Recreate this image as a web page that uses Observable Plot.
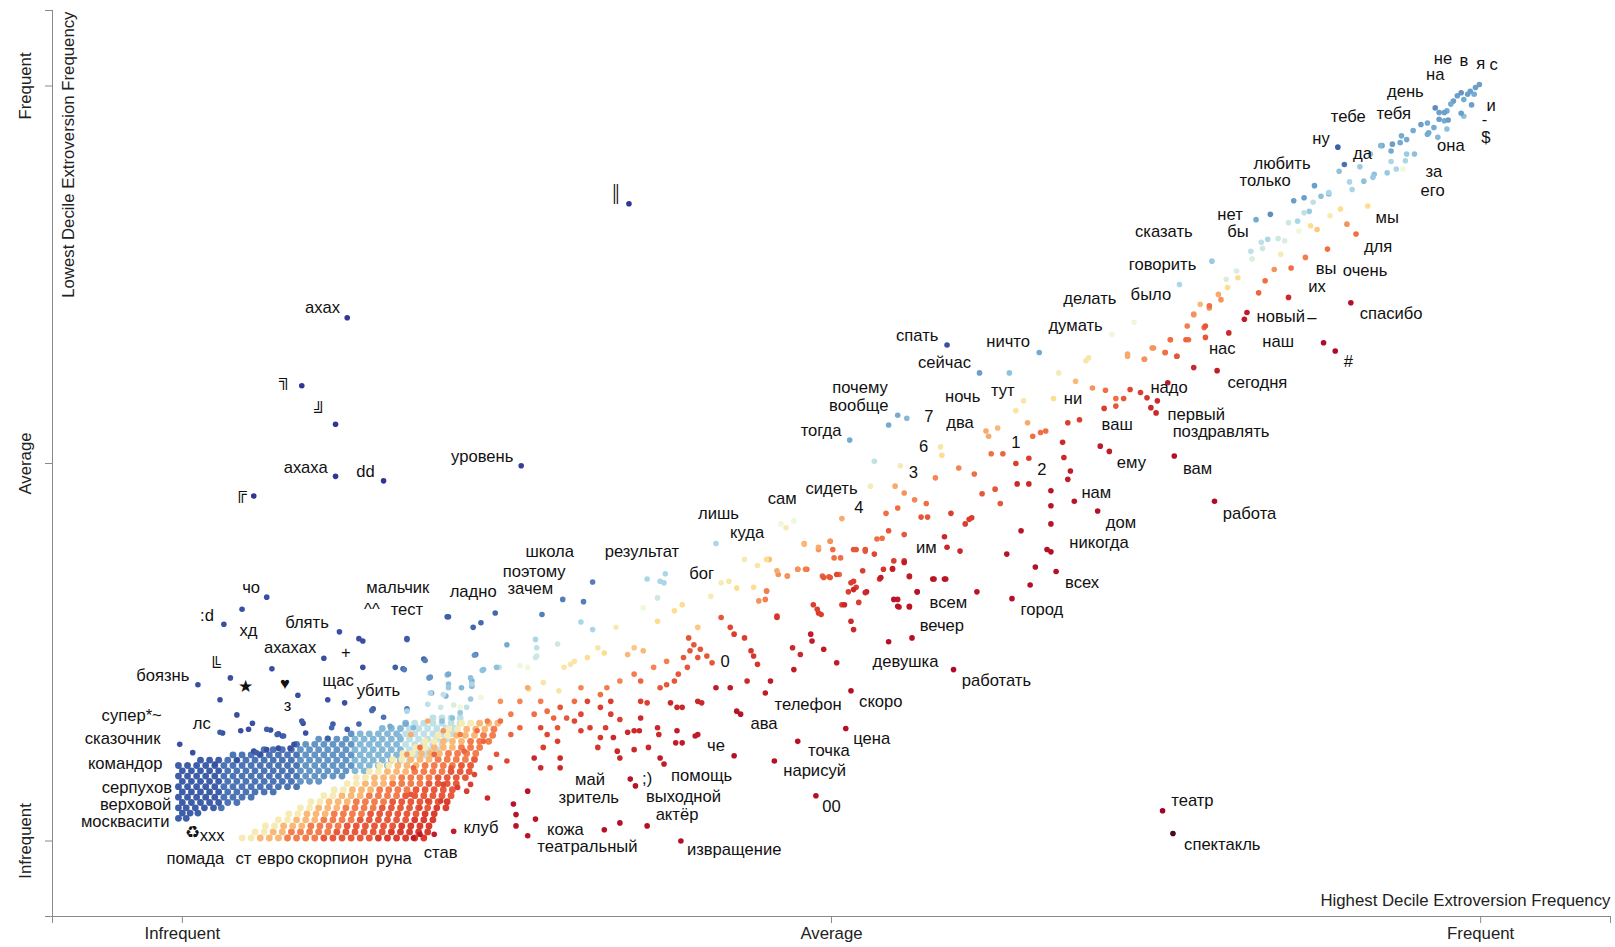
<!DOCTYPE html>
<html><head><meta charset="utf-8">
<script src="https://cdn.jsdelivr.net/npm/d3@7"></script>
<script src="https://cdn.jsdelivr.net/npm/@observablehq/plot@0.6"></script>
<style>html,body{margin:0;padding:0;background:#fff;overflow:hidden}</style>
</head><body><div id="chart"></div>
<script>
// Values are rank-scaled frequencies ×1000; score s (−10…100): red = extrovert-leaning, blue = introvert-leaning
const tickValues = [0, 500, 1000];
const tickLabels = ["Infrequent", "Average", "Frequent"];
const xTitle = "Highest Decile Extroversion Frequency";
const yTitle = "Lowest Decile Extroversion Frequency";

// individual terms [x, y, score]
const termPoints = [
[999,1002,78],[996,998,78],[992,993,78],[995,989,75],[990,989,78],[985,991,80],[982,987,78],[987,982,75],[979,980,78],[977,976,75],
[974,967,75],[972,965,78],[968,965,78],[965,971,82],[987,960,70],[972,954,75],[968,956,78],[974,943,70],[964,945,75],[960,938,75],
[954,949,78],[959,936,75],[949,910,70],[943,929,75],[938,925,75],[932,923,78],[924,921,78],[931,914,75],[942,901,65],[935,890,65],
[928,885,68],[918,883,70],[917,879,68],[910,874,70],[901,863,65],[913,841,45],[940,890,55],[890,919,92],[895,896,88],[872,868,78],
[864,852,78],[856,848,78],[877,854,70],[883,857,72],[868,834,68],[859,821,65],[838,830,82],[827,823,75],[860,808,55],[849,795,58],
[836,797,65],[831,793,62],[823,781,62],[869,815,45],[874,810,42],[884,828,50],[892,837,45],[897,817,35],[904,804,30],[882,784,30],
[865,773,32],[854,759,30],[841,757,35],[846,777,50],[834,742,30],[829,726,28],[813,746,45],[805,733,45],[793,768,68],[768,737,65],
[798,724,38],[800,717,35],[784,711,40],[791,706,35],[779,697,35],[774,682,32],[787,680,30],[788,667,25],[775,664,30],[761,664,32],
[766,642,28],[747,653,35],[757,647,28],[741,638,30],[728,642,38],[733,687,55],[716,671,55],[852,720,15],[820,700,12],[818,691,12],
[806,673,15],[900,713,8],[879,660,5],[888,649,5],
[939,934,75],[948,941,75],[959,951,75],[967,932,72],[975,955,78],[985,964,78],[993,975,78],[923,921,72],[915,910,70],[907,893,68],
[931,900,65],[943,910,68],[891,887,70],[899,873,65],[883,859,65],[871,846,62],[864,832,62],[852,819,60],[844,798,60],[832,785,60],
[824,771,58],[812,755,58],[804,744,58],
[589,657,95],[660,647,75],[614,620,78],[637,620,70],[675,620,50],[696,636,48],[698,640,48],[688,609,40],[648,583,48],[642,570,48],
[671,586,45],[551,564,75],[558,560,72],[544,551,75],[514,531,75],[533,503,62],[584,522,48],[585,511,45],[553,497,50],[530,470,50],
[549,470,38],[556,461,35],[564,452,33],[573,447,30],[580,481,33],[598,494,33],[610,486,30],[619,543,38],[621,536,38],[628,547,40],
[651,554,38],[655,536,30],[661,541,30],[665,543,30],[623,513,30],[632,513,28],
[701,600,35],[711,597,30],[719,586,30],[725,586,25],[719,576,25],[710,573,20],
[730,598,22],[738,594,20],[743,587,18],[751,583,15],[746,574,15],[750,567,15],
[728,645,38],[741,638,35],[748,653,35],[757,647,30],[766,642,25],[761,664,30],[773,664,28],[779,698,35],[788,682,25],[791,709,30],
[779,627,15],[797,623,12],[759,607,12],[764,510,8],[795,450,5],
[682,554,20],[691,558,20],[678,528,15],[679,508,15],[707,523,12],[714,516,12],[684,490,12],[682,479,12],
[642,500,20],[652,507,20],[643,473,15],[652,473,15],[669,464,10],[669,444,10],[669,420,10],[687,450,10],[705,437,8],[646,411,10],
[666,386,8],[669,383,8],[635,380,10],[657,363,8],[673,357,8],[653,339,8],[639,321,8],[612,330,10],
[599,384,15],[589,389,15],[587,403,15],[592,434,20],[603,420,20],[606,426,20],[608,428,20],[616,460,25],[626,466,25],[630,447,25],
[569,429,25],[574,429,25],[542,434,30],[551,441,30],[544,411,25],[556,406,25],[535,400,30],[539,401,30],[508,427,38],[479,394,38],
[499,397,35],[507,375,30],[501,386,30],[517,386,25],[526,386,25],[490,386,35],[548,371,20],[556,371,20],[537,347,18],[540,360,18],
[547,360,18],[560,350,15],[579,347,12],[588,347,12],[566,330,12],[551,320,12],[560,310,12],[552,310,12],[521,316,20],[508,313,20],
[493,351,28],[498,350,28],[506,353,28],[515,342,20],[519,336,20],[513,330,20],[474,360,30],[481,360,30],[466,351,35],[459,353,35],
[452,373,40],[450,331,35],[471,424,55],[465,415,50],[486,313,20],[490,302,20],[458,298,20],
[755,40,0],[763,10,-10],[594,227,5],[562,269,8],[544,264,8],[551,311,10],[560,311,10],[548,320,10],[566,330,10],[578,347,10],
[587,347,10],[560,351,12],[538,349,12],[547,361,12],[556,369,12],[527,330,12],
[127,693,100],[92,603,100],[118,552,100],[118,483,100],[155,477,100],[55,457,100],[261,497,98],[344,844,100],
[46,307,95],[32,287,95],[65,323,95],[121,277,95],[139,265,95],[136,268,95],[173,268,92],[204,297,92],[109,242,95],[69,228,95],
[37,216,95],[12,207,95],[29,187,95],[89,193,95],[112,187,95],[125,183,95],[139,230,95],[164,230,92],[170,228,92],[186,241,92],
[190,216,80],[204,220,70],[147,175,92],[155,164,88],[173,175,85],[42,167,95],[54,156,95],[31,143,95],[45,146,95],[51,148,95],
[68,147,95],[74,142,95],[77,139,95],[93,156,95],[95,143,95],[116,155,92],[127,148,92],[136,155,90],[-2,128,95],[8,117,95],
[25,102,95],[42,107,95],[55,119,95],[60,115,95],[65,121,95],[74,123,95],[83,123,95],[86,128,95],[112,136,92],
[146,173,90],[226,247,85],[224,283,90],[230,289,90],[250,260,75],[273,245,60],[232,227,70],[244,230,62],[260,232,55],[266,230,55],
[223,212,75],[223,205,72],[205,221,75],[215,203,72],[222,188,68],[203,192,72],[192,196,75],[208,163,70],[214,170,68],[200,159,70],
[219,177,62],[172,155,75],[178,150,72],[160,152,75],[167,139,72],[115,150,90],[92,159,92],[78,139,92],[73,141,92],[65,148,92],
[29,144,92],[57,117,92],
[316,343,85],[358,347,65],[368,344,65],[372,354,65],[371,342,65],[293,320,85],[309,317,85],[277,300,85],[241,302,90],[205,297,92],
[173,267,92],[366,322,60],[355,309,55],[334,283,50],[307,290,65],[316,280,65],[272,267,65],[289,261,60],[225,246,80],[242,230,70],
[231,226,70],[187,239,85],[171,227,85],[191,217,80],[205,208,70],[205,203,68],[222,216,70],[223,208,65],[272,243,60],[273,256,62],
[191,196,65],[201,194,62],[173,172,65],[189,181,62],[199,177,60],[209,180,58],[230,190,55],[214,177,55],
[267,201,48],[278,210,48],[290,199,48],[299,234,48],[302,238,48],[294,230,48],[320,256,48],[325,249,45],[312,243,45],[348,256,42],
[355,252,40],[343,247,40],[366,291,45],[379,305,45],[385,313,45],[397,283,42],[407,324,50],[415,342,50],[421,344,48],[433,373,50],
[450,373,45],[440,336,45],
[458,358,38],[466,351,35],[474,360,35],[480,360,32],[444,318,35],[450,331,32],[449,320,32],[479,393,40],[490,389,38],[499,397,35],
[502,375,30],[494,349,25],[499,349,25],[504,353,22],[517,344,20],[524,358,20],[533,380,22],[519,386,25],[526,384,25],
[517,333,15],[526,329,15],[510,313,15],[489,307,20],[492,300,20],[515,291,15],[517,280,15],
[458,296,18],[484,274,12],[485,265,12],[494,254,12],[470,256,15],[476,247,15],[504,236,12],[471,227,12],
[415,296,25],[422,283,22],[425,274,20],[433,269,20],[438,252,18],[440,245,18],[443,234,18],[435,212,15],[453,212,12],[449,196,12],
[390,269,25],[394,260,25],[399,254,25],[404,245,25],[408,236,25],[391,252,25],[397,243,25],[386,243,25],[389,230,25],[382,221,25],
[379,212,25],[373,207,25],[368,203,25],[411,203,12],[422,203,12],[430,168,10],[427,172,10],
[397,185,15],[400,183,15],[381,177,15],[385,177,15],[376,183,15],[395,139,12],[397,141,12],[381,146,12],[380,130,12],[385,130,12],
[425,113,8],[456,106,8],[474,132,8],[488,60,8],[511,149,8],[515,199,8],
[368,110,12],[371,102,12],[359,124,15],[348,121,15],[332,137,15],[335,119,15],[337,110,15],[345,82,10],[349,73,10],
[358,20,8],[337,24,8],[325,15,8],[384,0,8],
[348,146,15],[352,146,15],[343,144,15],[353,185,20],[358,183,20],[366,150,15],[367,141,15],[353,163,15],
[322,177,20],[330,168,20],[337,161,20],[326,150,20],[322,137,18],[320,124,18],[330,185,20],[312,185,22],[307,168,22],[314,150,20],
[307,146,20],[302,159,22],[291,177,25],[296,163,25],[289,150,25],[281,141,22],[276,150,22],[289,132,20],[278,124,20],[291,110,15],
[276,97,15],[271,110,15],[266,66,10],[255,49,10],[257,35,10],[257,20,10],[266,7,10],[272,29,10],[291,97,15],
[235,57,15],[209,13,12],[194,9,12],[183,9,12],[178,4,12],
[253,168,32],[245,185,35],[260,185,33],[266,203,38],[253,141,28],[245,159,30],[260,150,28],[235,159,32],[232,132,28],[242,115,25],
[237,97,22],[225,88,22],[250,106,22],[212,71,20],[201,75,22],[199,53,20],[183,44,22],[189,53,22],[176,62,25],[219,66,20],
[222,75,20],[207,97,25],[194,115,28],[183,124,30],[178,97,28],[217,119,28],[227,146,30],[214,141,32],[201,146,35],[189,159,38],
[176,141,38],[173,115,35],
[276,185,32],[281,172,30],[286,163,28],[271,168,30],[302,185,30],[307,203,33],[322,194,30],[327,203,32],[337,212,33],[348,221,32],
[353,212,28],[363,230,33],[373,238,32],
[411,394,65],[461,420,55],[443,365,48],[427,335,45]
];

// dense low-frequency terms: [y, score, [x, ...]]
const denseRows = [
[30,92,[-3,3]],[37,92,[0,6,12]],[44,92,[-3,3,10,17,24]],[44,87,[30]],[51,92,[0,7,14,21,28]],[51,87,[35,42]],
[58,92,[-3,4,11,18,25]],[58,87,[32,39,46,53]],
[65,92,[0,7,14,21,28]],[65,87,[35,42,49,56,63,70]],
[72,92,[-3,4,11,18,25]],[72,87,[32,39,46,53,60,67,74,81,88]],
[79,92,[0,7,14,21,28]],[79,87,[35,42,49,56,63,70,77,84]],[79,80,[91,98,105]],
[86,92,[-3,4,11,18,25]],[86,87,[32,39,46,53,60,67,74,81,88]],[86,80,[95,102,109,116,123]],
[93,92,[0,7,14,21,28]],[93,87,[35,42,49,56,63,70,77,84]],[93,80,[91,98,105,112,119,126]],[93,72,[133,140]],
[100,92,[-3,4,11,18,25]],[100,87,[32,39,46,53,60,67,74,81,88]],[100,80,[95,102,109,116,123,130]],[100,72,[137,144,151,158]],
[107,92,[14,21,28]],[107,87,[35,42,49,56,63,70,77,84]],[107,80,[91,98,105,112,119,126]],[107,72,[133,140,147,154,161,168]],[107,62,[175]],
[114,87,[39,46,53,60,67,74,81,88]],[114,80,[95,102,109,116,123,130]],[114,72,[137,144,151,158,165]],[114,62,[172,179,186,193]],
[121,87,[63,70,77,84]],[121,80,[91,98,105,112,119,126]],[121,72,[133,140,147,154,161,168]],[121,62,[175,182,189,196]],
[128,87,[88]],[128,80,[95,102,109,116,123,130]],[128,72,[137,144,151,158,165]],[128,62,[172,179,186,193,200]],
[135,80,[105,112,119,126]],[135,72,[133,140,147,154,161,168]],[135,62,[175,182,189,196,203]],
[142,80,[130]],[142,72,[137,144,151,158,165]],[142,62,[172,179,186,193,200,207]],
[149,72,[154,161,168]],[149,62,[175,182,189,196,203,210]],
[156,72,[172]],[156,62,[179,186,193,200,207,214]],[163,62,[193,200,207,214]],
[4,50,[46,53]],[4,40,[60,67,74]],[4,32,[81,88,95,102]],[4,26,[109,116,123,130,137,144]],[4,20,[151,158,165,172,179,186]],
[12,50,[56,63]],[12,40,[70,77]],[12,32,[84,91,98,105,112]],[12,26,[119,126,133,140,147,154]],[12,20,[161,168,175,182,189]],
[20,50,[64,71]],[20,40,[78,85,92]],[20,32,[99,106,113,120]],[20,26,[127,134,141,148,155,162]],[20,20,[169,176,183,190]],
[28,50,[74,81]],[28,40,[88,95,102]],[28,32,[109,116,123,130]],[28,26,[137,144,151,158,165,172]],[28,20,[179,186,193]],
[36,50,[82,89]],[36,40,[96,103,110]],[36,32,[117,124,131,138]],[36,26,[145,152,159,166,173,180]],[36,20,[187,194]],
[44,50,[91,98]],[44,40,[105,112,119]],[44,32,[126,133,140,147]],[44,26,[154,161,168,175,182,189]],[44,20,[196,203]],
[52,50,[99,106]],[52,40,[113,120,127]],[52,32,[134,141,148,155]],[52,26,[162,169,176,183,190,197]],[52,20,[204]],
[60,50,[109,116]],[60,40,[123,130,137]],[60,32,[144,151,158,165]],[60,26,[172,179,186,193,200,207]],
[68,50,[117,124]],[68,40,[131,138,145]],[68,32,[152,159,166,173]],[68,26,[180,187,194,201,208]],
[76,50,[127,134]],[76,40,[141,148,155]],[76,32,[162,169,176,183]],[76,26,[190,197,204,211]],
[84,50,[134,141]],[84,40,[148,155,162]],[84,32,[169,176,183,190]],[84,26,[197,204,211,218]],
[92,50,[144,151]],[92,40,[158,165,172]],[92,32,[179,186,193,200]],[92,26,[207,214,221]],
[100,50,[152,159]],[100,40,[166,173,180]],[100,32,[187,194,201,208]],[100,26,[215,222]],
[108,50,[162,169]],[108,40,[176,183,190]],[108,32,[197,204,211,218]],[108,26,[225]],
[116,50,[170,177]],[116,40,[184,191,198]],[116,32,[205,212,219,226]],
[124,50,[180,187]],[124,40,[194,201,208]],[124,32,[215,222,229]],
[132,50,[187,194]],[132,40,[201,208,215]],[132,32,[222,229,236]],
[140,50,[197,204]],[140,40,[211,218,225]],[140,32,[232,239]],
[148,50,[205,212]],[148,40,[219,226,233]],[148,32,[240]],
[156,50,[215,222]],[156,40,[229,236,243]]
];

// label text and its position [text, x, y]
const termLabels = [
["не",971,1036],["в",987,1033],["я",1000,1029],["с",1010,1028],["на",965,1015],["день",942,993],["и",1008,974],["-",1003,955],["$",1004,932],
["тебе",898,960],["тебя",933,963],["ну",877,930],["да",909,910],["она",977,921],["любить",847,897],["только",834,874],["за",964,887],["его",963,861],
["нет",807,830],["бы",813,807],["мы",928,825],["сказать",756,807],["для",921,787],["говорить",755,763],["вы",881,758],["очень",911,756],["их",874,734],
["было",746,723],["делать",699,718],["думать",688,683],["спасибо",931,698],["новый",846,694],["–",870,693],["наш",844,662],["нас",801,652],["#",898,635],
["надо",760,601],["сегодня",828,607],["первый",781,565],["поздравлять",800,542],["вам",782,493],["работа",822,434],
["спать",566,669],["ничто",636,661],["сейчас",587,634],["почему",522,600],["вообще",521,577],["ночь",601,588],["тут",632,596],["ни",686,586],
["ваш",720,551],["7",575,562],["два",599,554],["тогда",492,543],["6",571,522],["1",642,527],["ему",731,501],["3",563,488],["2",662,492],
["нам",704,462],["сам",462,454],["сидеть",500,466],["4",521,442],["дом",723,421],["лишь",413,434],["куда",435,409],["им",573,388],
["никогда",706,395],["всех",693,342],["всем",590,315],["город",662,306],["вечер",585,285],["девушка",557,237],["работать",627,212],
["бог",400,354],["школа",283,383],["результат",354,383],["поэтому",271,357],["зачем",268,334],["ладно",224,330],["мальчик",166,335],
["^^",146,307],["тест",173,307],["0",418,237],["телефон",482,181],["скоро",538,185],["ава",448,155],["цена",531,135],["че",411,126],
["точка",498,119],["нарисуй",487,93],["май",314,81],[";)",358,82],["помощь",400,86],["зритель",313,57],["выходной",386,59],["актёр",381,35],
["00",500,46],["кожа",295,15],["театральный",312,-8],["извращение",425,-12],["клуб",230,17],["став",199,-15],["театр",778,54],["спектакль",801,-5],
["помада",10,-24],["ст",47,-24],["евро",72,-24],["скорпион",116,-24],["руна",163,-24],
["ахах",108,706],["╗",79,611],["╝",106,570],["ахаха",95,495],["dd",141,489],["╔",45,461],["уровень",231,509],["║",334,857],
["чо",53,335],[":d",19,298],["хд",51,279],["блять",96,289],["ахахах",83,256],["+",126,250],["боязнь",-15,219],["╚",25,232],
["★",49,205],["♥",79,208],["з",81,179],["щас",120,212],["убить",151,199],["супер*~",-39,166],["лс",15,155],["сказочник",-46,135],
["командор",-44,103],["серпухов",-35,71],["верховой",-36,48],["москвасити",-44,25],["♻",8,11],["xxx",23,7]
];

const densePoints = denseRows.flatMap(([y, s, xs]) => xs.map(x => ({x, y, s})));
const points = termPoints.map(([x, y, s]) => ({x, y, s}));

const scoreStops = [-10, 0, 10, 20, 30, 45, 55, 65, 75, 90, 100];
const scoreT = [0, 0.04, 0.12, 0.2, 0.4, 0.55, 0.7, 0.8, 0.92, 1];
const scoreColors = ["#4a0a1c"].concat(scoreT.map(t => d3.interpolateRdYlBu(t)));

const font = "'Liberation Sans', Arial, Helvetica, sans-serif";
const allTicks = [-100].concat(tickValues, [1100]);
const fmt = d => { const i = tickValues.indexOf(d); return i < 0 ? "" : tickLabels[i]; };

const chart = Plot.plot({
  width: 1615, height: 947,
  marginLeft: 52, marginRight: 5, marginTop: 10, marginBottom: 31,
  style: {fontFamily: font, background: "#fff"},
  x: {domain: [-100, 1100]},
  y: {domain: [-100, 1100]},
  color: {type: "linear", domain: scoreStops, range: scoreColors, clamp: true},
  marks: [
    Plot.ruleX([-100], {stroke: "#8a8a8a"}),
    Plot.ruleY([-100], {stroke: "#8a8a8a"}),
    Plot.axisX({ticks: allTicks, tickSize: 7, tickPadding: 4, tickFormat: fmt, stroke: "#8a8a8a", fill: "#222", fontSize: 16.8, label: null}),
    Plot.axisY({ticks: allTicks, tickSize: 7, tickFormat: () => "", stroke: "#8a8a8a", label: null}),
    Plot.text(tickValues, {x: () => -100, y: d => d, text: (d, i) => tickLabels[i], rotate: -90, dx: -27, fontSize: 16.8, fill: "#222"}),
    Plot.text([yTitle], {frameAnchor: "top-left", rotate: -90, textAnchor: "end", lineAnchor: "middle", dx: 16, dy: 1, fontSize: 16.8, fill: "#222"}),
    Plot.text([xTitle], {frameAnchor: "bottom-right", textAnchor: "end", lineAnchor: "middle", dy: -16, fontSize: 16.8, fill: "#222"}),
    Plot.dot(densePoints, {x: "x", y: "y", fill: "s", r: 3.4}),
    Plot.dot(points, {x: "x", y: "y", fill: "s", r: 2.8}),
    Plot.text(termLabels, {x: d => d[1], y: d => d[2], text: d => d[0], fontSize: 16.6, fill: "#111", textAnchor: "middle", lineAnchor: "middle"})
  ]
});
document.getElementById("chart").appendChild(chart);
</script>
</body></html>
